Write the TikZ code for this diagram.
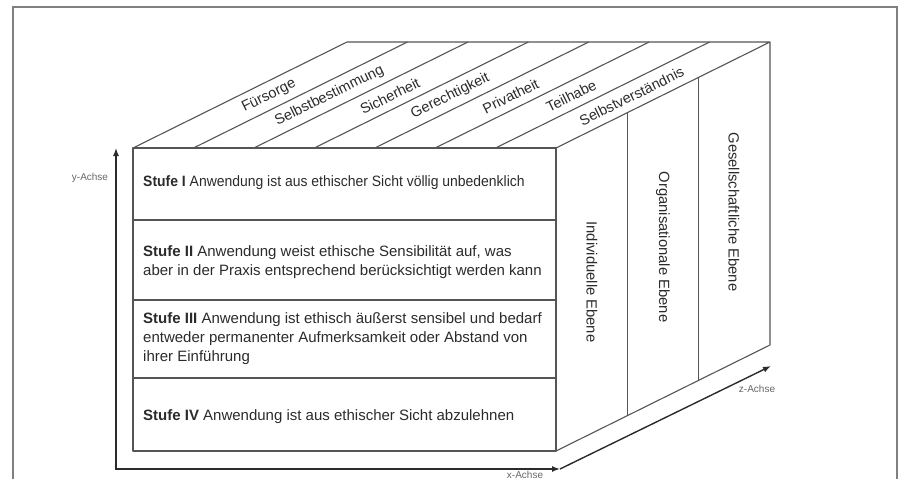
\documentclass[tikz,border=0pt]{standalone}
\usepackage{fontspec}
\usepackage{graphicx}
\setmainfont{Liberation Sans}
\usetikzlibrary{arrows.meta}
\definecolor{edgegray}{HTML}{555555}
\definecolor{inkcol}{HTML}{2B2B2B}
\definecolor{framegray}{HTML}{808080}
\definecolor{axisgray}{HTML}{666666}
\begin{document}
\begin{tikzpicture}[x=1pt,y=-1pt,
  cube/.style={draw=edgegray,line width=1.1pt,line join=round},
  axisline/.style={draw=inkcol,line width=1.4pt},
  stufe/.style={anchor=west,align=left,text=inkcol,font=\fontsize{15}{19}\selectfont,inner sep=0pt},
  toplabel/.style={rotate=26.35,text=inkcol,font=\fontsize{14.5}{16}\selectfont,inner sep=0pt},
  sidelabel/.style={rotate=-90,text=inkcol,font=\fontsize{14.8}{16}\selectfont,inner sep=0pt},
  axislabel/.style={text=axisgray,font=\fontsize{10}{12}\selectfont,inner sep=0pt}]
\useasboundingbox (0,0) rectangle (898,479);
% outer frame
\draw[framegray,line width=1.2pt] (13,479) -- (13,7) -- (897,7) -- (897,479);
% cube corners
\coordinate (FTL) at (133,148);
\coordinate (FTR) at (556,148);
\coordinate (FBL) at (133,451);
\coordinate (FBR) at (556,451);
\coordinate (BTL) at (347,42);
\coordinate (BTR) at (770,42);
\coordinate (BBR) at (770,345);
% front face
\draw[cube] (FTL) -- (FTR) -- (FBR) -- (FBL) -- cycle;
\draw[cube] (133,220) -- (556,220);
\draw[cube] (133,300) -- (556,300);
\draw[cube] (133,378) -- (556,378);
% top face
\draw[cube] (FTL) -- (BTL) -- (BTR) -- (FTR);
\foreach \k in {1,...,6}{
  \draw[cube] ({133+60.43*\k},148) -- ++(214,-106);
}
% right face
\draw[cube] (BTR) -- (BBR) -- (FBR);
\foreach \k in {1,2}{
  \draw[cube] ({556+71.33*\k},{148-35.33*\k}) -- ++(0,303);
}
% front texts
\node[stufe] (s1) at (143,183) {\scalebox{0.93}[1]{\textbf{Stufe I} Anwendung ist aus ethischer Sicht völlig unbedenklich}};
\node[stufe] (s2) at (143,262) {\textbf{Stufe II} Anwendung weist ethische Sensibilität auf, was\\aber in der Praxis entsprechend berücksichtigt werden kann};
\node[stufe] (s3) at (143,339) {\textbf{Stufe III} Anwendung ist ethisch äußerst sensibel und bedarf\\entweder permanenter Aufmerksamkeit oder Abstand von\\ihrer Einführung};
\node[stufe] (s4) at (143,417) {\textbf{Stufe IV} Anwendung ist aus ethischer Sicht abzulehnen};
% top texts
\node[toplabel] (t1) at ({269+60.43*0},96) {Fürsorge};
\node[toplabel] (t2) at ({269+60.43*1},96) {Selbstbestimmung};
\node[toplabel] (t3) at ({269+60.43*2},96) {Sicherheit};
\node[toplabel] (t4) at ({269+60.43*3},96) {Gerechtigkeit};
\node[toplabel] (t5) at ({269+60.43*4},96) {Privatheit};
\node[toplabel] (t6) at ({269+60.43*5},96) {Teilhabe};
\node[toplabel] (t7) at ({269+60.43*6},96) {Selbstverständnis};
% side texts
\node[sidelabel] (e1) at (592,282) {Individuelle Ebene};
\node[sidelabel] (e2) at (663,247) {Organisationale Ebene};
\node[sidelabel] (e3) at (734,212) {Gesellschaftliche Ebene};
% axes
\coordinate (O) at (116,469);
\coordinate (Ytip) at (116,148);
\coordinate (Xtip) at (560,469);
\coordinate (Ztip) at (771,366);
\draw[axisline,{Latex[length=8pt,width=6pt]}-{Latex[length=8pt,width=6pt]}] (Ytip) -- (O) -- (Xtip);
\draw[axisline,-{Latex[length=8pt,width=6pt]}] (Xtip) -- (Ztip);
\node[axislabel] (ly) at (90,178) {y-Achse};
\node[axislabel] (lz) at (757,389) {z-Achse};
\node[axislabel] (lx) at (525,475) {x-Achse};
\end{tikzpicture}
\end{document}
